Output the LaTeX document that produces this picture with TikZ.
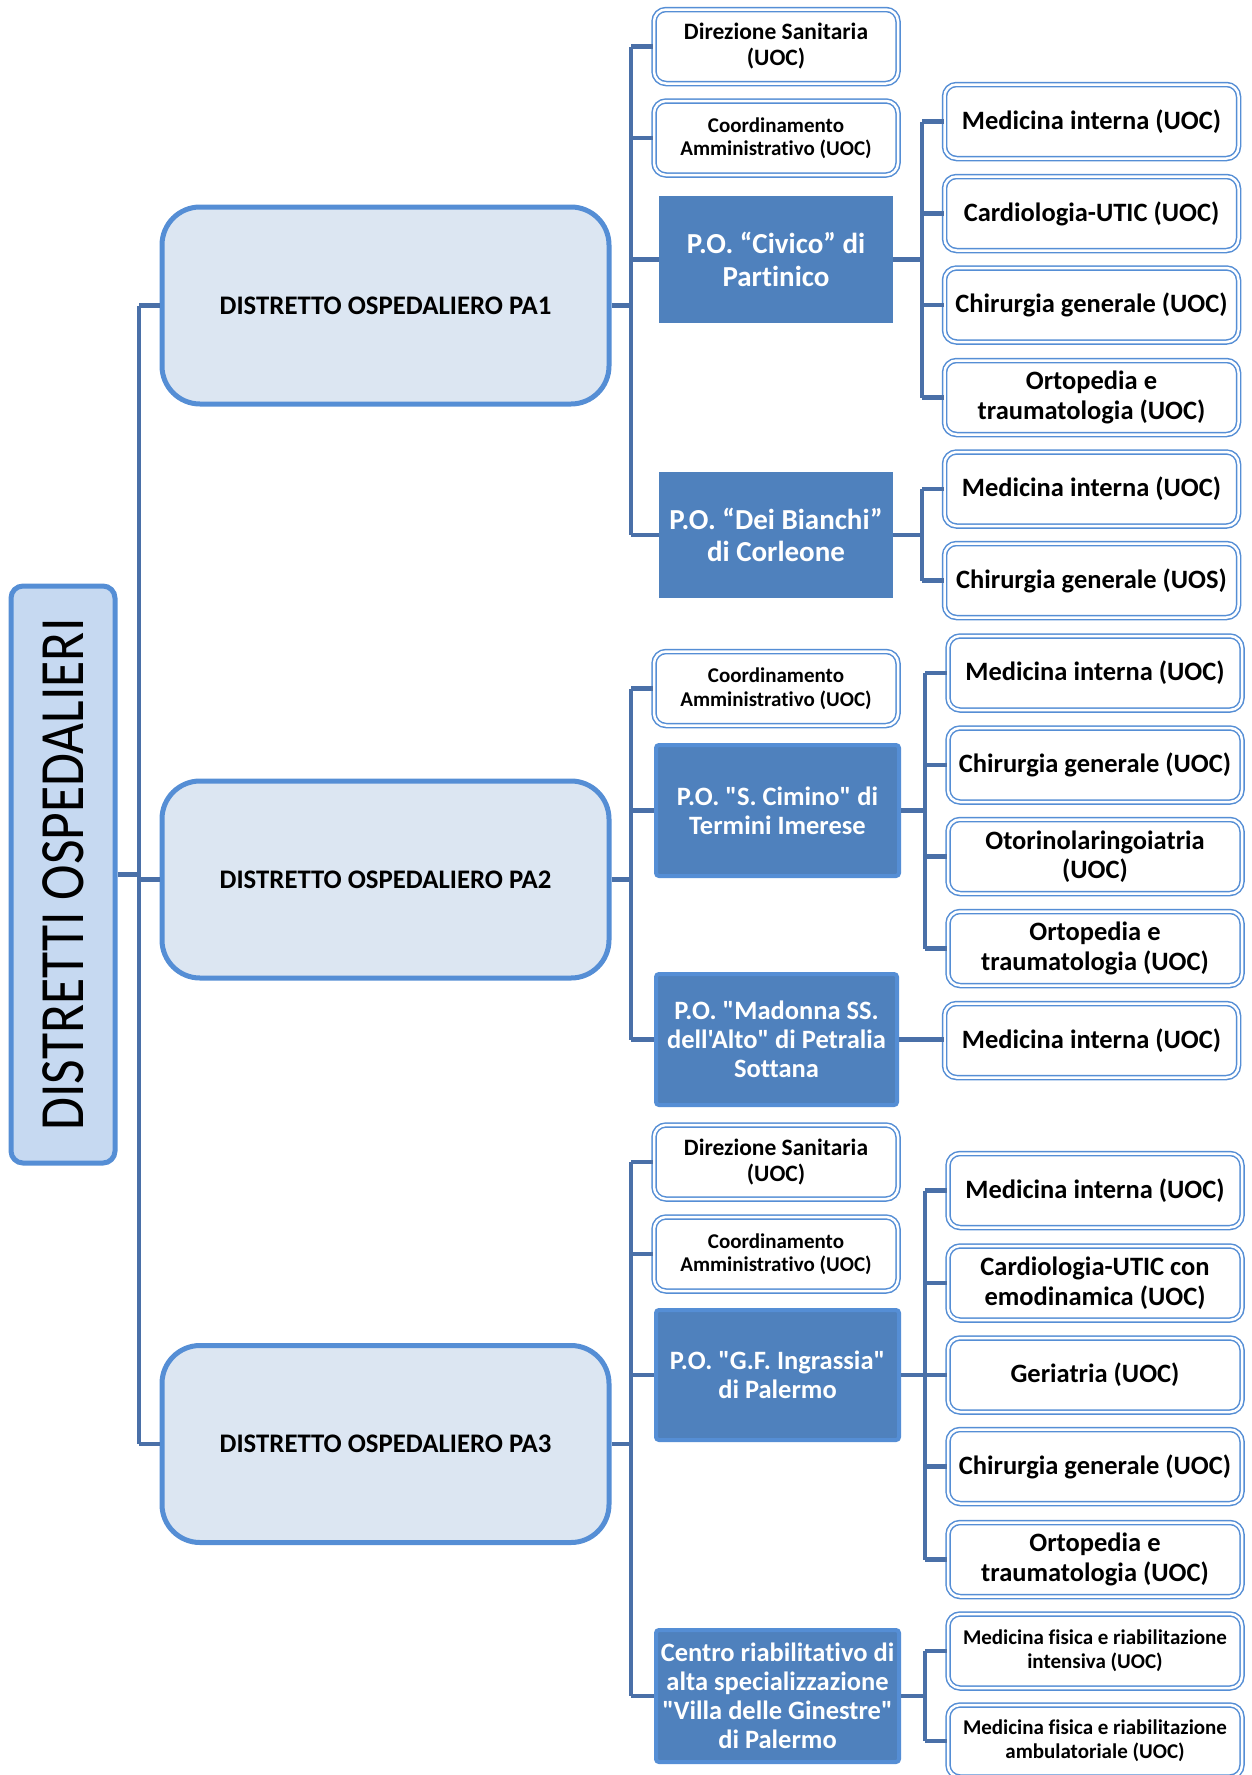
\documentclass[tikz,border=0pt]{standalone}
\usepackage{fontspec}
\setmainfont{Carlito}[Ligatures={CommonOff,TeXOff}]
\definecolor{conncol}{HTML}{4A70A8}
\definecolor{edgecol}{HTML}{558ED5}
\definecolor{rootfill}{HTML}{C6D9F1}
\definecolor{distfill}{HTML}{DCE6F2}
\definecolor{pofill}{HTML}{4F81BD}
\newcommand{\fs}[2]{\fontsize{#1}{#2}\selectfont}
\newcommand{\qq}{\symbol{34}}
\newcommand{\ap}{\symbol{39}}
\begin{document}
\begin{tikzpicture}[x=1pt,y=-1pt,
  conn/.style={draw=conncol,line width=4.5pt},
  rootbox/.style={draw=edgecol,fill=rootfill,line width=5pt,rounded corners=12pt,inner sep=0pt,minimum width=104pt,minimum height=577pt},
  distbox/.style={draw=edgecol,fill=distfill,line width=5pt,rounded corners=38pt,inner sep=0pt,minimum width=447pt,minimum height=197pt,font=\fs{26.8}{29}\bfseries},
  wbox/.style={draw=edgecol,double=white,double distance=2.5pt,line width=1.5pt,fill=white,rounded corners=12pt,inner sep=0pt,align=center,minimum height=74pt},
  uoc/.style={wbox,minimum width=294pt,font=\fs{26.5}{29.5}\bfseries},
  dsbox/.style={wbox,minimum width=244pt,font=\fs{23.5}{26}\bfseries},
  cabox/.style={wbox,minimum width=244pt,font=\fs{21}{23.5}\bfseries},
  mfbox/.style={wbox,minimum width=294pt,font=\fs{21}{24}\bfseries},
  poA/.style={fill=pofill,text=white,inner sep=0pt,align=center,minimum width=234pt,font=\fs{29}{32.5}\bfseries},
  poB/.style={fill=pofill,draw=edgecol,line width=4pt,rounded corners=3pt,text=white,inner sep=0pt,align=center,minimum width=243pt,font=\fs{26.5}{29}\bfseries}
]
\useasboundingbox (0,0) rectangle (1251,1775);
\fill[white] (0,0) rectangle (1251,1775);

% root and districts
\node[rootbox] (root) at (63,874.5) {};
\node[rotate=90] (roottext) at (root.center) {\scalebox{0.85}[1]{\fs{63}{63}DISTRETTI OSPEDALIERI}};
\node[distbox] (pa1) at (385.5,305.5) {DISTRETTO OSPEDALIERO PA1};
\node[distbox] (pa2) at (385.5,879.5) {DISTRETTO OSPEDALIERO PA2};
\node[distbox] (pa3) at (385.5,1444) {DISTRETTO OSPEDALIERO PA3};

% PA1 level 2
\node[dsbox] (ds1) at (776,46.5) {Direzione Sanitaria\\(UOC)};
\node[cabox] (ca1) at (776,138) {Coordinamento\\Amministrativo (UOC)};
\node[poA,minimum height=127pt] (civ) at (776,259.5) {P.O. “Civico” di\\Partinico};
\node[poA,minimum height=126pt] (bia) at (776,535) {P.O. “Dei Bianchi”\\di Corleone};

% Civico level 3
\node[uoc] (mi1) at (1091.5,121.5) {Medicina interna (UOC)};
\node[uoc] (cu1) at (1091.5,213.5) {Cardiologia-UTIC (UOC)};
\node[uoc] (cg1) at (1091.5,305) {Chirurgia generale (UOC)};
\node[uoc] (ot1) at (1091.5,397.5) {Ortopedia e\\traumatologia (UOC)};
% Bianchi level 3
\node[uoc] (mi2) at (1091.5,489) {Medicina interna (UOC)};
\node[uoc] (cg2) at (1091.5,580.5) {Chirurgia generale (UOS)};

% PA2 level 2
\node[cabox] (ca2) at (776,688.5) {Coordinamento\\Amministrativo (UOC)};
\node[poB,minimum height=131pt] (cim) at (777.5,810.5) {P.O. \qq S. Cimino\qq{} di\\Termini Imerese};
\node[poB,minimum height=131pt,minimum width=241pt] (mad) at (776.5,1039.5) {P.O. \qq Madonna SS.\\dell\ap Alto\qq{} di Petralia\\Sottana};
% Cimino level 3
\node[uoc] (mi3) at (1095,673) {Medicina interna (UOC)};
\node[uoc] (cg3) at (1095,765) {Chirurgia generale (UOC)};
\node[uoc] (ol3) at (1095,856.5) {Otorinolaringoiatria\\(UOC)};
\node[uoc] (ot3) at (1095,948.5) {Ortopedia e\\traumatologia (UOC)};
% Madonna level 3
\node[uoc] (mi4) at (1091.5,1040.5) {Medicina interna (UOC)};

% PA3 level 2
\node[dsbox] (ds3) at (776,1162) {Direzione Sanitaria\\(UOC)};
\node[cabox] (ca3) at (776,1254) {Coordinamento\\Amministrativo (UOC)};
\node[poB,minimum height=130pt] (ing) at (777.5,1375) {P.O. \qq G.F. Ingrassia\qq\\di Palermo};
\node[poB,minimum height=132pt] (cen) at (777.5,1696) {Centro riabilitativo di\\alta specializzazione\\\qq Villa delle Ginestre\qq\\di Palermo};
% Ingrassia level 3
\node[uoc] (mi5) at (1095,1190.5) {Medicina interna (UOC)};
\node[uoc] (cu5) at (1095,1283) {Cardiologia-UTIC con\\emodinamica (UOC)};
\node[uoc] (ge5) at (1095,1375) {Geriatria (UOC)};
\node[uoc] (cg5) at (1095,1466.5) {Chirurgia generale (UOC)};
\node[uoc] (ot5) at (1095,1559.5) {Ortopedia e\\traumatologia (UOC)};
% Centro level 3
\node[mfbox] (mf1) at (1095,1651) {Medicina fisica e riabilitazione\\intensiva (UOC)};
\node[mfbox,minimum height=72pt] (mf2) at (1095,1741) {Medicina fisica e riabilitazione\\ambulatoriale (UOC)};

% bus coordinates
\coordinate (t0) at (139,0);
\coordinate (b1) at (631,0);
\coordinate (b2) at (922,0);
\coordinate (b3) at (925,0);

% trunk
\draw[conn] (root.east) -- (root.east -| t0);
\draw[conn] (pa1.west -| t0) -- (pa3.west -| t0);
\draw[conn] (pa1.west -| t0) -- (pa1.west);
\draw[conn] (pa2.west -| t0) -- (pa2.west);
\draw[conn] (pa3.west -| t0) -- (pa3.west);
% PA1
\draw[conn] (pa1.east) -- (pa1.east -| b1);
\draw[conn] (ds1.west -| b1) -- (bia.west -| b1);
\draw[conn] (ds1.west -| b1) -- (ds1.west);
\draw[conn] (ca1.west -| b1) -- (ca1.west);
\draw[conn] (civ.west -| b1) -- (civ.west);
\draw[conn] (bia.west -| b1) -- (bia.west);
\draw[conn] (civ.east) -- (civ.east -| b2);
\draw[conn] (mi1.west -| b2) -- (ot1.west -| b2);
\foreach \n in {mi1,cu1,cg1,ot1} \draw[conn] (\n.west -| b2) -- (\n.west);
\draw[conn] (bia.east) -- (bia.east -| b2);
\draw[conn] (mi2.west -| b2) -- (cg2.west -| b2);
\foreach \n in {mi2,cg2} \draw[conn] (\n.west -| b2) -- (\n.west);
% PA2
\draw[conn] (pa2.east) -- (pa2.east -| b1);
\draw[conn] (ca2.west -| b1) -- (mad.west -| b1);
\foreach \n in {ca2,cim,mad} \draw[conn] (\n.west -| b1) -- (\n.west);
\draw[conn] (cim.east) -- (cim.east -| b3);
\draw[conn] (mi3.west -| b3) -- (ot3.west -| b3);
\foreach \n in {mi3,cg3,ol3,ot3} \draw[conn] (\n.west -| b3) -- (\n.west);
\draw[conn] (mad.east) -- (mi4.west |- mad.east);
% PA3
\draw[conn] (pa3.east) -- (pa3.east -| b1);
\draw[conn] (ds3.west -| b1) -- (cen.west -| b1);
\foreach \n in {ds3,ca3,ing,cen} \draw[conn] (\n.west -| b1) -- (\n.west);
\draw[conn] (ing.east) -- (ing.east -| b3);
\draw[conn] (mi5.west -| b3) -- (ot5.west -| b3);
\foreach \n in {mi5,cu5,ge5,cg5,ot5} \draw[conn] (\n.west -| b3) -- (\n.west);
\draw[conn] (cen.east) -- (cen.east -| b3);
\draw[conn] (mf1.west -| b3) -- (mf2.west -| b3);
\foreach \n in {mf1,mf2} \draw[conn] (\n.west -| b3) -- (\n.west);
\end{tikzpicture}
\end{document}
